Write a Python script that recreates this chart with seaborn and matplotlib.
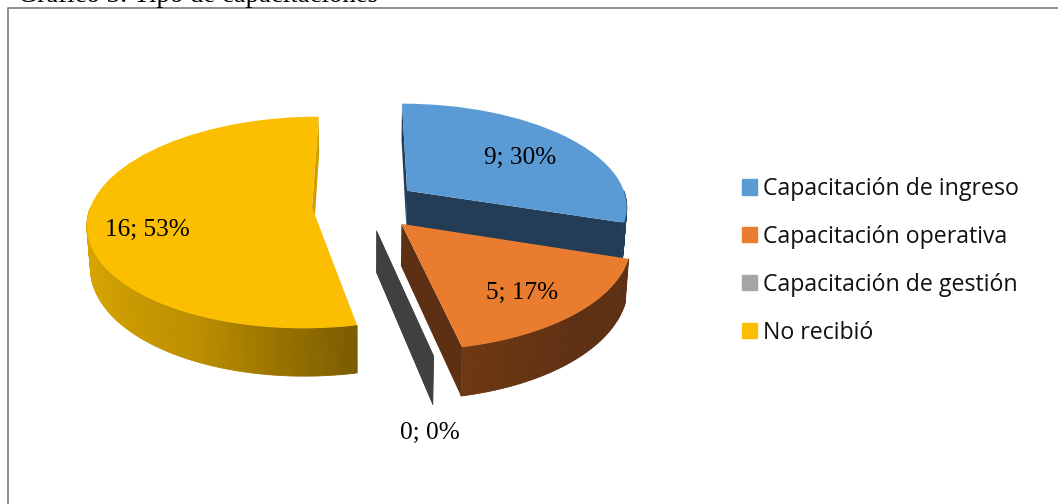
# Grafico 3 : exploded pseudo 3D pie
import numpy as np
import seaborn as sns
import matplotlib
matplotlib.use('Agg')
import matplotlib.pyplot as plt
from matplotlib.lines import Line2D
from matplotlib.patches import Patch
from matplotlib.transforms import Transform

categories = ['Capacitación de ingreso', 'Capacitación operativa', 'Capacitación de gestión', 'No recibió']
values = [9, 5, 0, 16]
percents = [30, 17, 0, 53]
top_colors = ['#5B9BD5', '#EA7C30', '#A5A5A5', '#FCBE00']
title_text = 'Gráfico 3: Tipo de capacitaciones'

sns.set_theme(style='white')

W, H = 1058, 504
# pie placement on the page, in pixels
cx, cy, rx, ry, k, depth = 365, 205, 221, 103, 0.14, 41

# wall shades along each slice's angle (theta1 -> theta2)
rim_shades = [['#234058', '#234058'], ['#6e3812', '#5e3013', '#5e3013'], ['#404040', '#404040'],
              ['#d9a600', '#d9a600', '#d9a600', '#d5a300', '#bd8f00', '#7a5b00']]
cut_shades = ['#223d55', '#5e3013', '#404040', '#d0a000']


def project(x, y):
    s = 1 / (1 + k * np.asarray(y))
    return cx + rx * np.asarray(x) * s, cy - ry * np.asarray(y) * s


class Perspective(Transform):
    input_dims = output_dims = 2
    is_separable = False

    def transform_non_affine(self, values):
        px, py = project(values[:, 0], values[:, 1])
        return np.column_stack([px, py])


def drop(px, py, y):
    # bottom edge of a wall, shrinks a little towards the centre
    s = 1 / (1 + k * np.asarray(y))
    return cx + (px - cx) * 0.987, py + depth * s


def mix(shades, t):
    rgb = np.array([matplotlib.colors.to_rgb(c) for c in shades])
    pos = np.linspace(0, 1, len(shades))
    return [np.interp(t, pos, rgb[:, i]) for i in range(3)]


def faces_viewer(px, py, w):
    # a cut wall shows when going down the page leaves the slice
    if w.theta2 - w.theta1 < 1e-6:
        return True
    mid = np.radians((w.theta1 + w.theta2) / 2)
    mx, my = project(w.center[0] + 0.5 * np.cos(mid), w.center[1] + 0.5 * np.sin(mid))
    ex, ey = px[1] - px[0], py[1] - py[0]
    side = ex * (my - py[0]) - ey * (mx - px[0])
    return ex * side < 0


fig = plt.figure(figsize=(W / 100, H / 100), dpi=100)
ax = fig.add_axes([0, 0, 1, 1])

wedges, _ = ax.pie(values, colors=top_colors, explode=[0.24] * 4, startangle=90,
                   counterclock=False, radius=1)
ax.set_aspect('auto')
ax.set_xlim(0, W)
ax.set_ylim(H, 0)

# back slices first
order = [3, 0, 2, 1]
for n_slice, i in enumerate(order):
    w = wedges[i]
    x0, y0 = w.center
    z = 10 + 2 * n_slice
    w.set_transform(Perspective() + ax.transData)
    w.set_linewidth(0)
    w.set_zorder(z + 1)
    w.set_clip_on(False)

    # the two cut walls
    for a in [w.theta1, w.theta2]:
        xs = x0 + np.array([0, np.cos(np.radians(a))])
        ys = y0 + np.array([0, np.sin(np.radians(a))])
        px, py = project(xs, ys)
        if not faces_viewer(px, py, w):
            continue
        bx, by = drop(px, py, ys)
        ax.fill(np.r_[px, bx[::-1]], np.r_[py, by[::-1]], color=cut_shades[i], lw=0, zorder=z)

    # outer wall, in thin strips so the shade can change
    n = max(int(w.theta2 - w.theta1), 1)
    angles = np.linspace(w.theta1, w.theta2, n + 1)
    for j in range(n):
        t = np.radians(angles[j:j + 2])
        if np.sin(t.mean()) > 0:
            continue
        xs, ys = x0 + np.cos(t), y0 + np.sin(t)
        px, py = project(xs, ys)
        bx, by = drop(px, py, ys)
        ax.fill(np.r_[px, bx[::-1]], np.r_[py, by[::-1]], color=mix(rim_shades[i], j / n),
                lw=0.6, zorder=z)

# data labels
label_xy = [(520, 158), (522, 293), (430, 433), (147, 230)]
for (lx, ly), v, p in zip(label_xy, values, percents):
    ax.text(lx, ly, f'{v}; {p}%', ha='center', va='center', fontsize=18.2,
            family='Liberation Serif', color='black', zorder=30)

# legend
handles = [Patch(color=c, label=n) for c, n in zip(top_colors, categories)]
leg = ax.legend(handles=handles, loc='upper left', bbox_to_anchor=(742 / W, 1 - 177 / H),
                frameon=False, prop={'family': 'Open Sans', 'size': 16.7}, labelcolor='#111111',
                handlelength=0.64, handleheight=0.64, handletextpad=0.26,
                labelspacing=1.03, borderpad=0, borderaxespad=0)
leg.set_zorder(30)

# frame and the cut off title above it
fig.add_artist(Line2D([8 / W, 8 / W, 1], [0, 1 - 7.5 / H, 1 - 7.5 / H], transform=fig.transFigure,
                      color='#878787', lw=1.3))
fig.text(18 / W, 1 - 1.5 / H, title_text, family='Liberation Serif', fontsize=19.3,
         color='black', ha='left', va='baseline')

fig.savefig('out.png', dpi=100)
